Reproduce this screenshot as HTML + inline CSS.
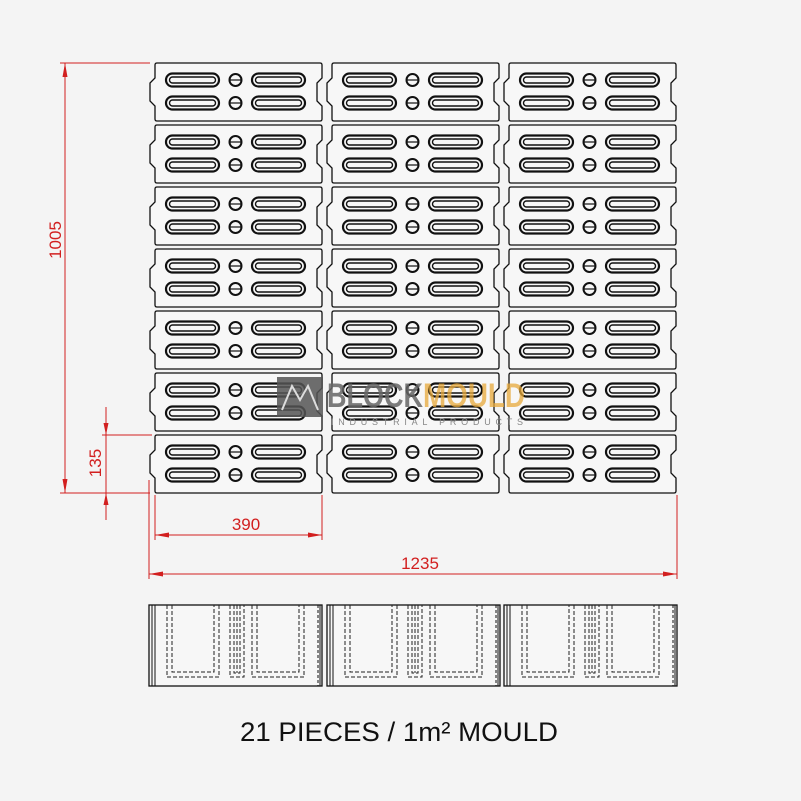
<!DOCTYPE html>
<html><head><style>
body{margin:0;background:#f4f4f4;}
svg{display:block}
</style></head><body>
<svg width="801" height="801" viewBox="0 0 801 801" xmlns="http://www.w3.org/2000/svg">
<rect width="801" height="801" fill="#f4f4f4"/>
<defs>
<g id="blk">
<path d="M7,0 H170 Q172,0 172,2 V15 L167,20 V38 L172,43 V56 Q172,58 170,58 H7 Q5,58 5,56 V43 L0,38 V20 L5,15 V2 Q5,0 7,0 Z" fill="#f7f7f7" stroke="#111" stroke-width="1.3"/>
<g fill="none" stroke="#111">
<rect x="16" y="10.5" width="53" height="13" rx="6.5" stroke-width="2.2"/>
<rect x="19.5" y="14" width="46" height="6" rx="3" stroke-width="1.4"/>
<rect x="102" y="10.5" width="53" height="13" rx="6.5" stroke-width="2.2"/>
<rect x="105.5" y="14" width="46" height="6" rx="3" stroke-width="1.4"/>
<rect x="16" y="33.5" width="53" height="13" rx="6.5" stroke-width="2.2"/>
<rect x="19.5" y="37" width="46" height="6" rx="3" stroke-width="1.4"/>
<rect x="102" y="33.5" width="53" height="13" rx="6.5" stroke-width="2.2"/>
<rect x="105.5" y="37" width="46" height="6" rx="3" stroke-width="1.4"/>
<circle cx="85.5" cy="17" r="6" stroke-width="2"/>
<line x1="80" y1="17" x2="91" y2="17" stroke-width="1.2"/>
<circle cx="85.5" cy="40" r="6" stroke-width="2"/>
<line x1="80" y1="40" x2="91" y2="40" stroke-width="1.2"/>
</g>
</g>
<g id="elev">
<rect x="0" y="0" width="173" height="81" fill="#f7f7f7" stroke="#111" stroke-width="1.3"/>
<line x1="3" y1="0" x2="3" y2="81" stroke="#111" stroke-width="1"/>
<line x1="6" y1="0" x2="6" y2="81" stroke="#111" stroke-width="1"/>
<line x1="169" y1="0" x2="169" y2="81" stroke="#111" stroke-width="1" stroke-dasharray="3,2"/>
<line x1="171" y1="0" x2="171" y2="81" stroke="#111" stroke-width="1"/>
<g fill="none" stroke="#222" stroke-width="1" stroke-dasharray="4,2">
<path d="M18,0 V72 H70 V0"/>
<path d="M23,0 V67 H65 V0"/>
<path d="M103,0 V72 H155 V0"/>
<path d="M108,0 V67 H150 V0"/>
<path d="M81,0 V72 H95 V0"/>
<path d="M85,0 V68 H91 V0"/>
<path d="M88,0 V68"/>
</g>
</g>
</defs>
<g>
<use href="#blk" x="150" y="63"/><use href="#blk" x="327" y="63"/><use href="#blk" x="504" y="63"/>
<use href="#blk" x="150" y="125"/><use href="#blk" x="327" y="125"/><use href="#blk" x="504" y="125"/>
<use href="#blk" x="150" y="187"/><use href="#blk" x="327" y="187"/><use href="#blk" x="504" y="187"/>
<use href="#blk" x="150" y="249"/><use href="#blk" x="327" y="249"/><use href="#blk" x="504" y="249"/>
<use href="#blk" x="150" y="311"/><use href="#blk" x="327" y="311"/><use href="#blk" x="504" y="311"/>
<use href="#blk" x="150" y="373"/><use href="#blk" x="327" y="373"/><use href="#blk" x="504" y="373"/>
<use href="#blk" x="150" y="435"/><use href="#blk" x="327" y="435"/><use href="#blk" x="504" y="435"/>
</g>
<g>
<rect x="277" y="377" width="46" height="40" fill="#555" opacity="0.85"/>
<path d="M282,410 L292,386 L300,400 L308,386 L318,410" fill="none" stroke="#ddd" stroke-width="2"/>
<text x="327" y="407" font-family="Liberation Sans, sans-serif" font-weight="bold" font-size="34" fill="#666" opacity="0.85" textLength="96" lengthAdjust="spacingAndGlyphs">BLOCK</text>
<text x="423" y="407" font-family="Liberation Sans, sans-serif" font-weight="bold" font-size="34" fill="#e8a93a" opacity="0.75" textLength="102" lengthAdjust="spacingAndGlyphs">MOULD</text>
<text x="331" y="425" font-family="Liberation Sans, sans-serif" font-size="9" fill="#888" textLength="192" lengthAdjust="spacing">INDUSTRIAL PRODUCTS</text>
</g>
<g stroke="#d21f1f" stroke-width="1" fill="none">
<line x1="60" y1="63" x2="150" y2="63"/>
<line x1="60" y1="493" x2="150" y2="493"/>
<line x1="65" y1="63" x2="65" y2="493"/>
<line x1="102" y1="435" x2="152" y2="435"/>
<line x1="106" y1="407" x2="106" y2="520"/>
<line x1="155" y1="495" x2="155" y2="540"/>
<line x1="322" y1="495" x2="322" y2="540"/>
<line x1="155" y1="535" x2="322" y2="535"/>
<line x1="149" y1="480" x2="149" y2="579"/>
<line x1="677" y1="495" x2="677" y2="579"/>
<line x1="149" y1="574" x2="677" y2="574"/>
</g>
<g fill="#d21f1f">
<path d="M65,63 l-2.5,14 h5 z"/><path d="M65,493 l-2.5,-14 h5 z"/>
<path d="M106,435 l-2.5,-12 h5 z"/><path d="M106,493 l-2.5,12 h5 z"/>
<path d="M155,535 l14,-2.5 v5 z"/><path d="M322,535 l-14,-2.5 v5 z"/>
<path d="M149,574 l14,-2.5 v5 z"/><path d="M677,574 l-14,-2.5 v5 z"/>
</g>
<g font-family="Liberation Sans, sans-serif" font-size="17" fill="#d21f1f" text-anchor="middle">
<text transform="translate(61,240) rotate(-90)">1005</text>
<text transform="translate(101,463) rotate(-90)">135</text>
<text x="246" y="530">390</text>
<text x="420" y="569">1235</text>
</g>
<use href="#elev" x="149" y="605"/>
<use href="#elev" x="327" y="605"/>
<use href="#elev" x="504" y="605"/>
<text x="240" y="741" font-family="Liberation Sans, sans-serif" font-size="27" fill="#111" textLength="318" lengthAdjust="spacingAndGlyphs">21 PIECES / 1m² MOULD</text>
</svg>
</body></html>
